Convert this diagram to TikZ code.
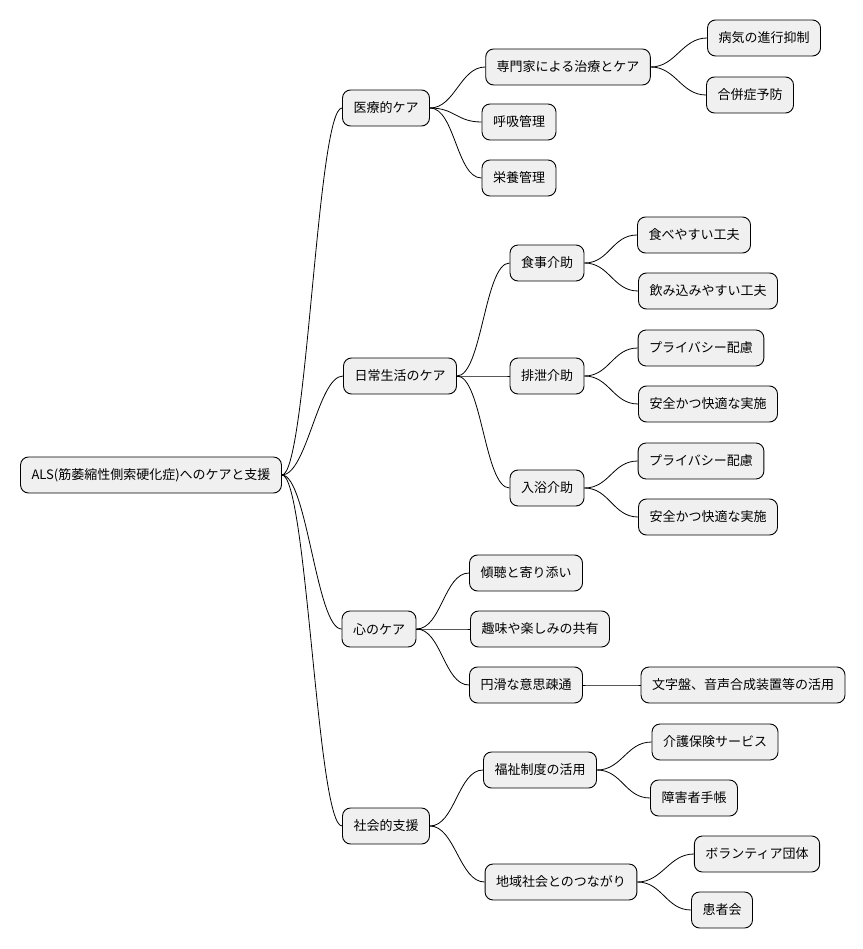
\documentclass[tikz,border=0pt]{standalone}
\usepackage{fontspec}
\setmainfont{Noto Sans CJK JP}
\usetikzlibrary{positioning}
\tikzset{topic/.style={draw, fill=black!6, rounded corners=8pt, line width=0.9pt,
                       minimum height=36pt, inner xsep=11pt,
                       font=\fontsize{13}{15}\selectfont}}
\tikzset{branch/.style={line width=0.8pt}}
\begin{document}
\begin{tikzpicture}[x=1pt,y=-1pt]
  \useasboundingbox (0,0) rectangle (862,949);
  % root
  \node[topic](root) at (151,475){ALS(筋萎縮性側索硬化症)へのケアと支援};
  % medical
  \node[topic](med) at (386,108){医療的ケア};
  \node[topic](pro) at (568,67){専門家による治療とケア};
  \node[topic](prog) at (764,38){病気の進行抑制};
  \node[topic](comp) at (750,95){合併症予防};
  \node[topic](resp) at (519,122){呼吸管理};
  \node[topic](nutr) at (519,178){栄養管理};
  % daily
  \node[topic](daily) at (400,376){日常生活のケア};
  \node[topic](meal) at (547,263){食事介助};
  \node[topic](eat) at (694,235){食べやすい工夫};
  \node[topic](swal) at (708,291){飲み込みやすい工夫};
  \node[topic](excr) at (547,376){排泄介助};
  \node[topic](priv1) at (701,348){プライバシー配慮};
  \node[topic](safe1) at (708,404){安全かつ快適な実施};
  \node[topic](bath) at (547,488){入浴介助};
  \node[topic](priv2) at (701,461){プライバシー配慮};
  \node[topic](safe2) at (708,517){安全かつ快適な実施};
  % mind
  \node[topic](mind) at (379,629){心のケア};
  \node[topic](listen) at (526,573){傾聴と寄り添い};
  \node[topic](hobby) at (540,629){趣味や楽しみの共有};
  \node[topic](talk) at (526,685){円滑な意思疎通};
  \node[topic](board) at (743,685){文字盤、音声合成装置等の活用};
  % social
  \node[topic](soc) at (386,826){社会的支援};
  \node[topic](welf) at (540,770){福祉制度の活用};
  \node[topic](care) at (715,742){介護保険サービス};
  \node[topic](card) at (694,798){障害者手帳};
  \node[topic](comm) at (561,882){地域社会とのつながり};
  \node[topic](vol) at (757,854){ボランティア団体};
  \node[topic](pat) at (722,910){患者会};

  \foreach \a/\b in {root/med,root/daily,root/mind,root/soc,
      med/pro,med/resp,med/nutr,pro/prog,pro/comp,
      daily/meal,daily/excr,daily/bath,meal/eat,meal/swal,
      excr/priv1,excr/safe1,bath/priv2,bath/safe2,
      mind/listen,mind/hobby,mind/talk,talk/board,
      soc/welf,soc/comm,welf/care,welf/card,comm/vol,comm/pat}
    \draw[branch] (\a.east) .. controls +(25,0) and +(-25,0) .. (\b.west);
\end{tikzpicture}
\end{document}
